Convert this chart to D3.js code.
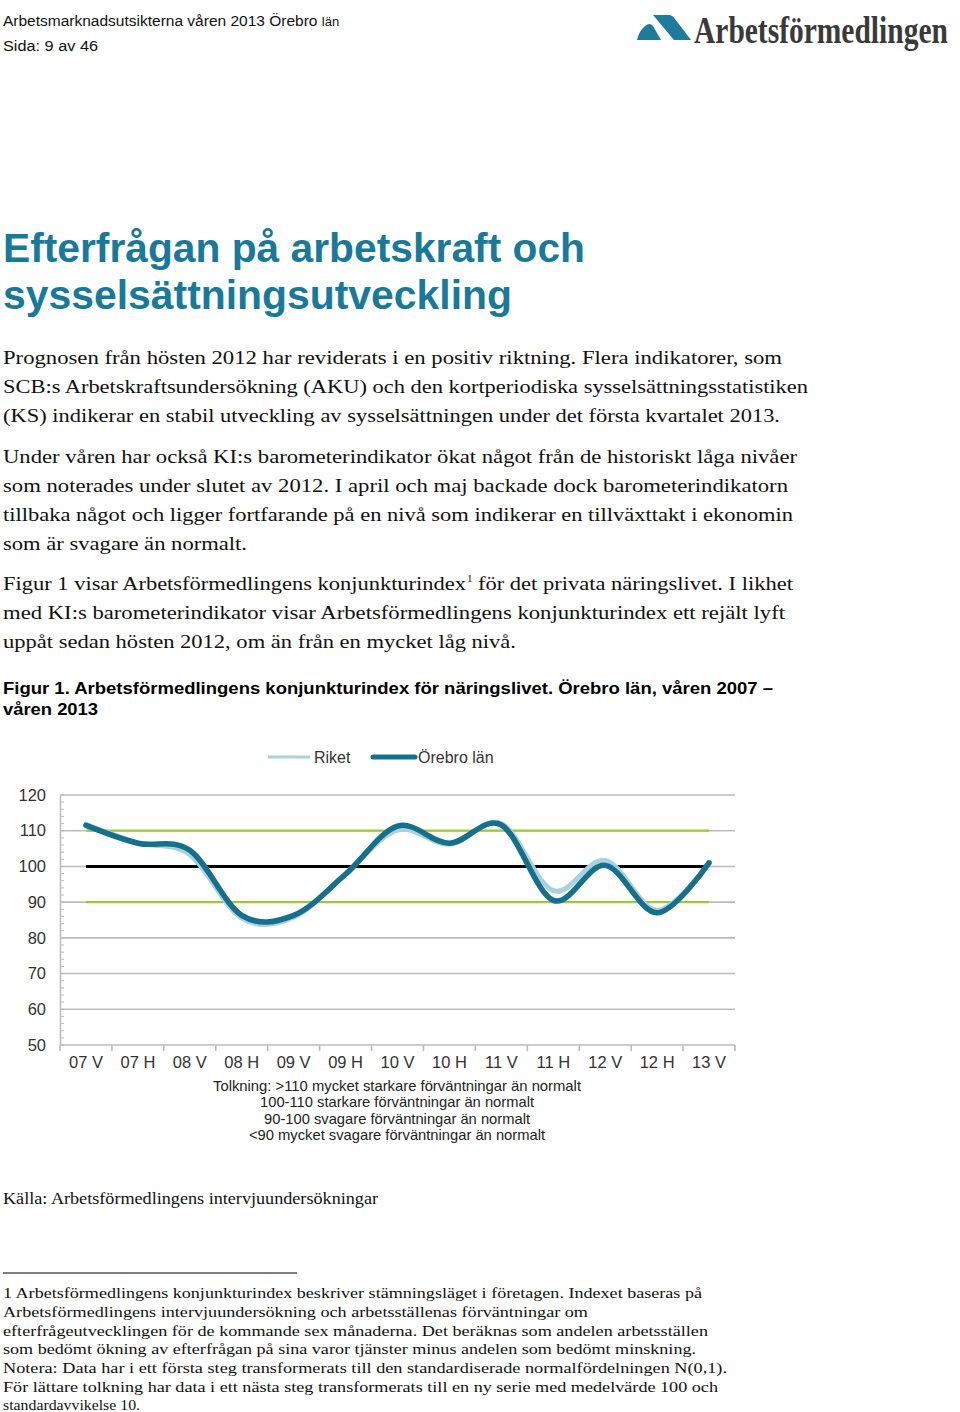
<!DOCTYPE html>
<html><head><meta charset="utf-8">
<script src="https://cdn.jsdelivr.net/npm/d3@7"></script>
<style>body{margin:0;background:#fff}svg{display:block}</style>
</head><body>
<script>
const categories = ["07 V","07 H","08 V","08 H","09 V","09 H","10 V","10 H","11 V","11 H","12 V","12 H","13 V"];
const riket  = [111.8,106.6,103.3,85.5,85.8,98.0,110.2,106.2,112.0,93.2,101.7,87.7,101.0];
const orebro = [111.5,106.5,104.5,86.3,86.3,97.8,111.3,106.5,111.6,90.5,100.3,87.0,101.0];
const yTicks = [50,60,70,80,90,100,110,120];
const refLines = [{v:110,c:"#9bcb2f",w:2.2},{v:90,c:"#9bcb2f",w:2.2},{v:100,c:"#000",w:3}];
const seriesNames = ["Riket","Örebro län"];
const interpretation = [
 "Tolkning: >110 mycket starkare förväntningar än normalt",
 "100-110 starkare förväntningar än normalt",
 "90-100 svagare förväntningar än normalt",
 "<90 mycket svagare förväntningar än normalt"];

const W=960,H=1412;
const svg=d3.select("body").append("svg").attr("width",W).attr("height",H);
const sans="Liberation Sans, Arial, sans-serif", serif="Liberation Serif, Times New Roman, serif";

function txt(x,y,s,o){
  const t=svg.append("text").attr("x",x).attr("y",y).text(s)
   .attr("font-family",o.f||sans).attr("font-size",o.s).attr("fill",o.c||"#000");
  if(o.b) t.attr("font-weight","bold");
  if(o.L) t.attr("textLength",o.L).attr("lengthAdjust","spacingAndGlyphs");
  if(o.a) t.attr("text-anchor",o.a);
  return t;
}
// header
const h1=svg.append("text").attr("x",3).attr("y",26).attr("font-family",sans).attr("font-size",15.5).attr("fill","#111");
h1.append("tspan").text("Arbetsmarknadsutsikterna våren 2013 Örebro ");
h1.append("tspan").attr("font-size",13).text("län");
txt(3,51,"Sida: 9 av 46",{s:15.5,c:"#111",L:95});
// logo
svg.append("path").attr("d","M637,40 Q639,31 645,26 Q650,22 653,26 L661,40 Z").attr("fill","#1d7b9c");
svg.append("path").attr("d","M653,15 L669,15 Q672,15 675,19 L691,40 L674,40 Z").attr("fill","#1d7b9c");
const lg=svg.append("g");
const lt=lg.append("text").attr("x",0).attr("y",0).text("Arbetsförmedlingen")
  .attr("font-family",serif).attr("font-size",38).attr("font-weight","bold").attr("fill","#3a3a3a");
const natural=lt.node().getComputedTextLength();
lg.attr("transform",`translate(694,43) scale(${254/natural},1)`);

// title
txt(3,262,"Efterfrågan på arbetskraft och",{s:41,b:1,c:"#18799b",L:582});
txt(3,309,"sysselsättningsutveckling",{s:41,b:1,c:"#18799b",L:509});

// body
const body=[
 [364,"Prognosen från hösten 2012 har reviderats i en positiv riktning. Flera indikatorer, som",779],
 [393,"SCB:s Arbetskraftsundersökning (AKU) och den kortperiodiska sysselsättningsstatistiken",805],
 [422,"(KS) indikerar en stabil utveckling av sysselsättningen under det första kvartalet 2013.",777],
 [463,"Under våren har också KI:s barometerindikator ökat något från de historiskt låga nivåer",794],
 [492,"som noterades under slutet av 2012. I april och maj backade dock barometerindikatorn",785],
 [521,"tillbaka något och ligger fortfarande på en nivå som indikerar en tillväxttakt i ekonomin",790],
 [550,"som är svagare än normalt.",244],
 [619,"med KI:s barometerindikator visar Arbetsförmedlingens konjunkturindex ett rejält lyft",782],
 [648,"uppåt sedan hösten 2012, om än från en mycket låg nivå.",513]];
body.forEach(d=>txt(3,d[0],d[1],{f:serif,s:19,c:"#111",L:d[2]}));
txt(3,590,"Figur 1 visar Arbetsförmedlingens konjunkturindex",{f:serif,s:19,c:"#111",L:463});
txt(467,582,"1",{f:serif,s:11,c:"#111"});
txt(478,590,"för det privata näringslivet. I likhet",{f:serif,s:19,c:"#111",L:315});

// caption
txt(3,694,"Figur 1. Arbetsförmedlingens konjunkturindex för näringslivet. Örebro län, våren 2007 –",{s:17,b:1,c:"#000",L:770});
txt(3,715,"våren 2013",{s:17,b:1,c:"#000",L:95});

// chart
const x=d3.scaleBand().domain(categories).range([60,735]);
const y=d3.scaleLinear().domain([50,120]).range([1045,795]);
const cx=d=>x(d)+x.bandwidth()/2;
const g=svg.append("g");
// grid
g.selectAll("line.grid").data(yTicks).join("line").attr("class","grid")
 .attr("x1",60).attr("x2",735).attr("y1",d=>y(d)).attr("y2",d=>y(d))
 .attr("stroke","#bdbdbd").attr("stroke-width",1.6);
// y axis
const yAxis=d3.axisLeft(y).tickValues(yTicks).tickSize(0).tickPadding(14);
const ya=g.append("g").attr("transform","translate(60,0)").call(yAxis);
ya.select(".domain").attr("stroke","#bdbdbd").attr("stroke-width",1.6);
ya.selectAll("text").attr("font-family",sans).attr("font-size",16.5).attr("fill","#333");
// minor ticks
g.selectAll("line.minor").data(d3.range(50,120.01,2)).join("line").attr("class","minor")
 .attr("x1",60).attr("x2",64).attr("y1",d=>y(d)).attr("y2",d=>y(d))
 .attr("stroke","#bdbdbd").attr("stroke-width",1);
// x axis
const xAxis=d3.axisBottom(x).tickSize(0).tickPadding(11);
const xa=g.append("g").attr("transform","translate(0,1045)").call(xAxis);
xa.select(".domain").remove();
xa.selectAll("text").attr("font-family",sans).attr("font-size",16.5).attr("fill","#333");
const bounds=categories.map(c=>x(c)).concat([x(categories[categories.length-1])+x.bandwidth()]);
g.selectAll("line.xt").data(bounds).join("line").attr("class","xt")
 .attr("x1",d=>d).attr("x2",d=>d).attr("y1",1045).attr("y2",1051)
 .attr("stroke","#bdbdbd").attr("stroke-width",1.6);
// ref lines
g.selectAll("line.ref").data(refLines).join("line").attr("class","ref")
 .attr("x1",cx(categories[0])).attr("x2",cx(categories[categories.length-1]))
 .attr("y1",d=>y(d.v)).attr("y2",d=>y(d.v))
 .attr("stroke",d=>d.c).attr("stroke-width",d=>d.w);
// series
const line=d3.line().x((d,i)=>cx(categories[i])).y(d=>y(d)).curve(d3.curveCardinal.tension(0));
g.append("path").attr("d",line(riket)).attr("fill","none").attr("stroke","#a8d2df").attr("stroke-width",5).attr("stroke-linecap","round");
g.append("path").attr("d",line(orebro)).attr("fill","none").attr("stroke","#16708d").attr("stroke-width",5.5).attr("stroke-linecap","round");

// legend
svg.append("line").attr("x1",268).attr("x2",310).attr("y1",757).attr("y2",757).attr("stroke","#a8d2df").attr("stroke-width",3);
txt(314,763,seriesNames[0],{s:16,c:"#333"});
svg.append("line").attr("x1",373).attr("x2",415).attr("y1",757).attr("y2",757).attr("stroke","#16708d").attr("stroke-width",5).attr("stroke-linecap","round");
txt(418,763,seriesNames[1],{s:16,c:"#333"});

// interpretation
const iy=[1091,1107,1124,1140], iL=[368,274,266,296];
interpretation.forEach((s,i)=>txt(397,iy[i],s,{s:15,c:"#222",a:"middle",L:iL[i]}));

// source
txt(3,1204,"Källa: Arbetsförmedlingens intervjuundersökningar",{f:serif,s:16,c:"#111",L:375});

// footnote
svg.append("line").attr("x1",3).attr("x2",297).attr("y1",1273).attr("y2",1273).attr("stroke","#000").attr("stroke-width",1);
const fn=[
 [1298,"1 Arbetsförmedlingens konjunkturindex beskriver stämningsläget i företagen. Indexet baseras på",699],
 [1317,"Arbetsförmedlingens intervjuundersökning och arbetsställenas förväntningar om",585],
 [1336,"efterfrågeutvecklingen för de kommande sex månaderna. Det beräknas som andelen arbetsställen",705],
 [1354,"som bedömt ökning av efterfrågan på sina varor tjänster minus andelen som bedömt minskning.",693],
 [1373,"Notera: Data har i ett första steg transformerats till den standardiserade normalfördelningen N(0,1).",724],
 [1392,"För lättare tolkning har data i ett nästa steg transformerats till en ny serie med medelvärde 100 och",715],
 [1410,"standardavvikelse 10.",137]];
fn.forEach(d=>txt(3,d[0],d[1],{f:serif,s:15,c:"#111",L:d[2]}));
</script>
</body></html>
